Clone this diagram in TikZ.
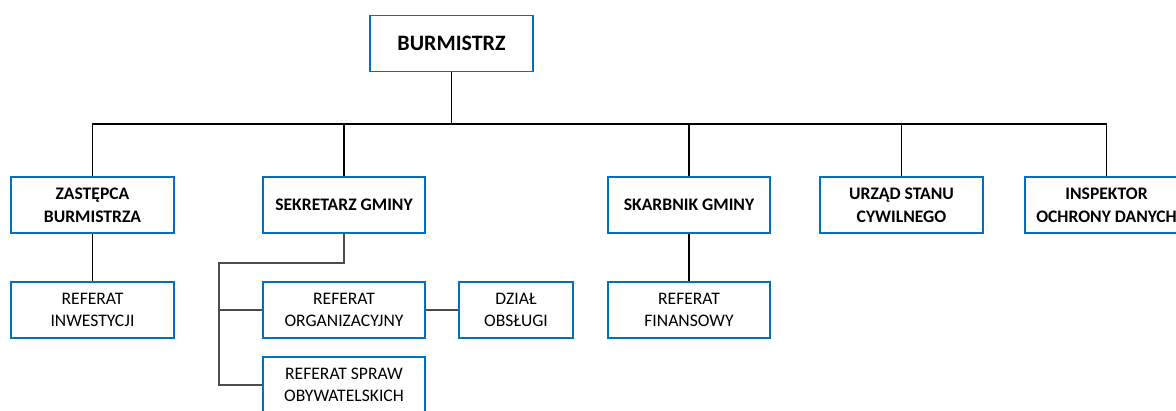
\documentclass[tikz,border=0pt]{standalone}
\usepackage{fontspec}
\setmainfont{Carlito}
\definecolor{ramka}{RGB}{0,112,192}
\tikzset{
  urzad/.style={draw=ramka, line width=1.3pt, fill=white, minimum width=122pt, minimum height=42pt, align=center, font=\fontsize{13.2}{17}\selectfont, inner sep=1pt},
  szef/.style={urzad, font=\bfseries\fontsize{13.2}{17}\selectfont},
  linia/.style={line width=1.1pt, black},
  cienka/.style={line width=0.8pt, black!70}
}
\begin{document}
\begin{tikzpicture}[x=0.75pt, y=-0.75pt]
                \useasboundingbox (0,0) rectangle (1176,410);
                \node [szef, font=\bfseries\fontsize{16.5}{19}\selectfont] (burm) at (451.5,43.5) {BURMISTRZ};
                \node [szef] (zast) at (92.5,205) {ZASTĘPCA\\BURMISTRZA};
                \node [szef] (sekr) at (344,205) {SEKRETARZ GMINY};
                \node [szef] (skarb) at (689,205) {SKARBNIK GMINY};
                \node [szef] (usc) at (901.5,205) {URZĄD STANU\\CYWILNEGO};
                \node [szef] (insp) at (1106.5,205) {INSPEKTOR\\OCHRONY DANYCH};
                \node [urzad] (inw) at (92.5,310) {REFERAT\\INWESTYCJI};
                \node [urzad] (org) at (344,310) {REFERAT\\ORGANIZACYJNY};
                \node [urzad, minimum width=85.5pt] (dzial) at (516,310) {DZIAŁ\\OBSŁUGI};
                \node [urzad] (fin) at (689,310) {REFERAT\\FINANSOWY};
                \node [urzad] (spraw) at (344,385) {REFERAT SPRAW\\OBYWATELSKICH};
                \coordinate (szyna) at (451.5,124);
                \coordinate (rozwidl) at (219,263);
                \draw [linia] (burm.south) -- (szyna) ;
                \draw [linia] (zast.north) |- (szyna) -| (insp.north) ;
                \draw [linia] (sekr.north) -- (sekr.north |- szyna) ;
                \draw [linia] (skarb.north) -- (skarb.north |- szyna) ;
                \draw [linia] (usc.north) -- (usc.north |- szyna) ;
                \draw [linia] (zast.south) -- (inw.north) ;
                \draw [linia] (skarb.south) -- (fin.north) ;
                \draw [cienka] (sekr.south) |- (rozwidl) |- (spraw.west) ;
                \draw [cienka] (rozwidl |- org.west) -- (org.west) ;
                \draw [cienka] (org.east) -- (dzial.west) ;
            \end{tikzpicture}
\end{document}
